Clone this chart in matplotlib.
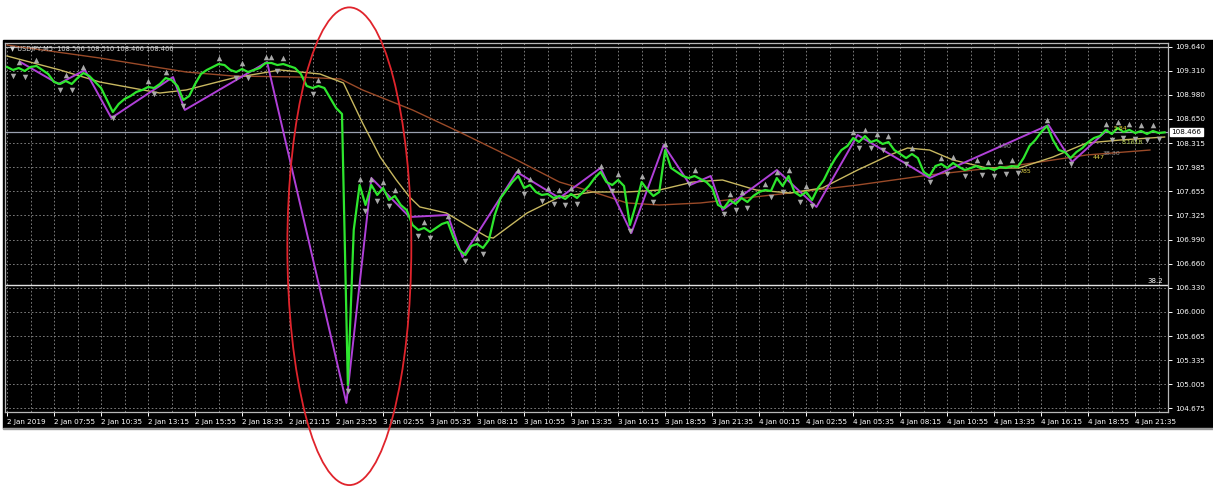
import numpy as np
import matplotlib
matplotlib.use("Agg")
import matplotlib.pyplot as plt
from matplotlib.patches import Ellipse, Rectangle
from matplotlib.transforms import blended_transform_factory

# USDJPY M5, 2-4 Jan 2019 (flash crash); one close every 4 bars
BAR_STEP = 4
close = [
    109.365, 109.324, 109.351, 109.310, 109.365, 109.379, 109.324, 109.269, 109.159, 109.131,
    109.172, 109.131, 109.214, 109.282, 109.241, 109.159, 109.076, 108.911, 108.746, 108.856,
    108.925, 108.966, 109.021, 109.049, 109.090, 109.076, 109.131, 109.214, 109.186, 109.104,
    108.911, 108.966, 109.131, 109.269, 109.324, 109.365, 109.406, 109.392, 109.324, 109.296,
    109.337, 109.296, 109.324, 109.351, 109.420, 109.420, 109.392, 109.406, 109.379, 109.351,
    109.269, 109.104, 109.076, 109.104, 109.076, 108.939, 108.801, 108.719, 104.992, 107.123,
    107.742, 107.467, 107.742, 107.605, 107.701, 107.536, 107.591, 107.467, 107.398, 107.192,
    107.123, 107.151, 107.096, 107.151, 107.206, 107.233, 107.013, 106.848, 106.779, 106.903,
    106.931, 106.876, 106.986, 107.330, 107.563, 107.673, 107.783, 107.866, 107.701, 107.742,
    107.646, 107.605, 107.618, 107.563, 107.591, 107.550, 107.618, 107.563, 107.646, 107.728,
    107.838, 107.921, 107.783, 107.742, 107.811, 107.728, 107.192, 107.467, 107.783, 107.673,
    107.591, 107.646, 108.223, 107.976, 107.921, 107.866, 107.838, 107.866, 107.825, 107.783,
    107.701, 107.467, 107.426, 107.536, 107.481, 107.563, 107.508, 107.591, 107.646, 107.673,
    107.660, 107.838, 107.728, 107.866, 107.646, 107.591, 107.646, 107.536, 107.701, 107.811,
    107.976, 108.113, 108.223, 108.278, 108.389, 108.333, 108.416, 108.333, 108.361, 108.306,
    108.333, 108.223, 108.168, 108.113, 108.168, 108.113, 107.921, 107.866, 108.003, 108.031,
    107.976, 108.045, 107.990, 107.948, 107.976, 108.003, 107.962, 107.976, 107.948, 107.990,
    107.976, 108.003, 107.990, 108.113, 108.278, 108.361, 108.471, 108.554, 108.361, 108.223,
    108.196, 108.113, 108.196, 108.251, 108.333, 108.389, 108.416, 108.499, 108.444, 108.526,
    108.471, 108.499, 108.457, 108.485, 108.444, 108.485, 108.457, 108.466,
]

ma_fast_bar = [0, 36, 63, 104, 122, 154, 186, 213, 229, 242, 254, 265, 274, 281, 299, 315,
               327, 331, 354, 376, 399, 422, 444, 467, 487, 510, 533, 555, 579, 601, 613,
               628, 644, 667, 689, 712, 735, 758, 788]
ma_fast = [109.516, 109.324, 109.159, 109.007, 109.049, 109.214, 109.324, 109.269, 109.145,
           108.595, 108.127, 107.811, 107.577, 107.440, 107.357, 107.164, 107.027, 107.013,
           107.357, 107.577, 107.646, 107.646, 107.673, 107.783, 107.811, 107.673, 107.632,
           107.701, 107.948, 108.155, 108.251, 108.223, 108.086, 107.976, 107.976, 108.127,
           108.320, 108.361, 108.402]

ma_slow_bar = [0, 63, 122, 154, 199, 227, 242, 276, 308, 347, 376, 399, 422, 444, 472,
               533, 579, 628, 689, 735, 778]
ma_slow = [109.667, 109.489, 109.296, 109.241, 109.227, 109.200, 109.049, 108.774, 108.471,
           108.086, 107.783, 107.646, 107.495, 107.467, 107.495, 107.632, 107.742, 107.880,
           108.017, 108.155, 108.223]

zz_bar = [9, 35, 53, 71, 113, 121, 177, 231, 248, 274, 300, 310, 347, 376, 404, 425, 447,
          465, 479, 487, 524, 551, 579, 610, 628, 709, 725, 749]
zz_price = [109.434, 109.131, 109.324, 108.664, 109.227, 108.774, 109.434, 104.744, 107.838,
            107.302, 107.330, 106.752, 107.921, 107.563, 107.976, 107.082, 108.292, 107.742,
            107.866, 107.398, 107.948, 107.440, 108.430, 108.058, 107.838, 108.567, 108.058,
            108.499]

y_ticks = [109.640, 109.310, 108.980, 108.650, 108.315, 107.985, 107.655, 107.325, 106.990,
           106.660, 106.330, 106.000, 105.665, 105.335, 105.005, 104.675]
x_labels = ["2 Jan 2019", "2 Jan 07:55", "2 Jan 10:35", "2 Jan 13:15", "2 Jan 15:55",
            "2 Jan 18:35", "2 Jan 21:15", "2 Jan 23:55", "3 Jan 02:55", "3 Jan 05:35",
            "3 Jan 08:15", "3 Jan 10:55", "3 Jan 13:35", "3 Jan 16:15", "3 Jan 18:55",
            "3 Jan 21:35", "4 Jan 00:15", "4 Jan 02:55", "4 Jan 05:35", "4 Jan 08:15",
            "4 Jan 10:55", "4 Jan 13:35", "4 Jan 16:15", "4 Jan 18:55", "4 Jan 21:35"]
LABEL_EVERY = 32

last_price = 108.466
fib_level = 106.367
top_level = 109.640

fib_text = [(679, 108.265, "4.90", "#9a9a9a"), (693, 107.921, "785", "#e6d84a"),
            (743, 108.127, "447", "#e6d84a"), (752, 108.182, "38.30", "#9a9a9a"),
            (758, 108.513, "5.84", "#f0e040"), (766, 108.333, "8.1618", "#c8e060")]

W, H = 1213, 487
fig = plt.figure(figsize=(W / 100, H / 100), dpi=100, facecolor="white")
fig.add_artist(Rectangle((3 / W, 1 - 428 / H), (W - 3) / W, 388 / H,
                         transform=fig.transFigure, color="black", zorder=0))
fig.add_artist(Rectangle((3 / W, 1 - 429 / H), (W - 3) / W, 1.5 / H,
                         transform=fig.transFigure, color="#9a9a9a", zorder=0))

ax = fig.add_axes([5 / W, 1 - 412 / H, 1163 / W, 369 / H])
ax.set_facecolor("black")

bars = np.arange(len(close)) * BAR_STEP
px = 0.013753
ax.set_xlim(-1.4, 790.3)
ax.set_ylim(104.675 - 4 * px, 109.640 + 4 * px)

# grid
for b in np.arange(0, 800, LABEL_EVERY // 2):
    ax.axvline(b, color="#8c8c8c", lw=0.6, ls=(0, (2, 2.5)), zorder=1)
for t in y_ticks:
    ax.axhline(t, color="#8c8c8c", lw=0.6, ls=(0, (2, 2.5)), zorder=1)

# level lines
ax.axhline(top_level, color="#b0b0b0", lw=0.9, zorder=2)
ax.axhline(last_price, color="#9aa0b0", lw=0.9, zorder=2)
ax.axhline(fib_level, color="#e0e0e0", lw=1.0, zorder=2)
ax.text(787, fib_level + 0.02, "38.2", color="white", fontsize=5, ha="right", va="bottom")

ax.plot(ma_slow_bar, ma_slow, color="#9a4a28", lw=1.0, zorder=3)
ax.plot(ma_fast_bar, ma_fast, color="#c8b860", lw=1.0, zorder=3)
ax.plot(zz_bar, zz_price, color="#b040d8", lw=1.4, zorder=4)
ax.plot(bars, close, color="#2ee62e", lw=1.6, zorder=5)

# fractal arrows from local highs / lows of the close series
c = np.asarray(close)
up = [i for i in range(1, len(c) - 1) if c[i] >= c[i - 1] and c[i] >= c[i + 1]]
dn = [i for i in range(1, len(c) - 1) if c[i] <= c[i - 1] and c[i] <= c[i + 1]]
ax.scatter(bars[up], c[up] + 0.08, marker="^", s=16, color="#a8a8a8", lw=0, zorder=6)
ax.scatter(bars[dn], c[dn] - 0.08, marker="v", s=16, color="#a8a8a8", lw=0, zorder=6)

for b, p, s, col in fib_text:
    ax.text(b, p, s, color=col, fontsize=4.5, ha="center", va="center", zorder=7)

ax.text(0.004, 0.992, "\u25bc USDJPY,M5  108.506 108.510 108.466 108.466", color="#d8d8d8",
        fontsize=4.8, transform=ax.transAxes, ha="left", va="top", zorder=8)

# axes styling
for s in ax.spines.values():
    s.set_color("#b8b8b8")
    s.set_linewidth(0.9)
ax.yaxis.tick_right()
ax.set_yticks(y_ticks)
ax.set_yticklabels([f"{t:.3f}" for t in y_ticks])
ax.set_xticks(np.arange(len(x_labels)) * LABEL_EVERY)
ax.set_xticklabels(x_labels)
ax.tick_params(axis="both", colors="white", labelsize=5.2, length=3, width=0.7, pad=2)
plt.setp(ax.get_xticklabels(), ha="left")

trans = blended_transform_factory(ax.transAxes, ax.transData)
ax.text(1.003, last_price, "108.466", transform=trans, color="black", fontsize=5.2,
        ha="left", va="center", zorder=9,
        bbox=dict(boxstyle="square,pad=0.15", fc="white", ec="white"))

# red highlight ring around the crash
ax.add_patch(Ellipse((233, 106.90), 84.4, 6.57, fill=False, ec="#e0242c", lw=1.3,
                     clip_on=False, zorder=10))

fig.savefig("out.png", dpi=100, facecolor="white")
